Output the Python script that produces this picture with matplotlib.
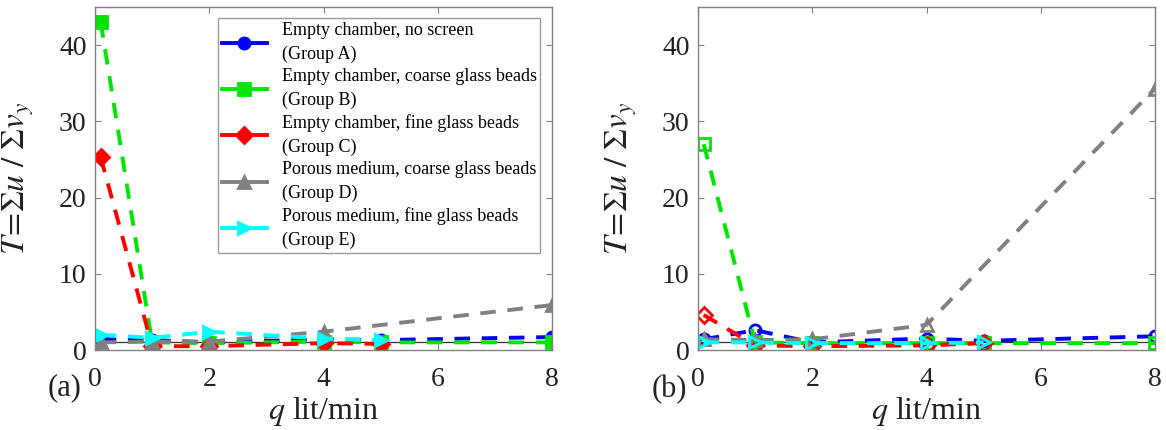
import matplotlib
matplotlib.use('Agg')
import matplotlib.pyplot as plt

plt.rcParams['font.family'] = ['Liberation Serif', 'DejaVu Serif']
plt.rcParams['mathtext.fontset'] = 'stix'

# flow rate q (lit/min) per group
q_a = [0.1, 1, 2, 4, 5, 8]
q_b = [0.1, 1, 2, 4, 5, 8]
q_c = [0.1, 1, 2, 4, 5]
q_d = [0.1, 1, 2, 4, 8]
q_e = [0.1, 1, 2, 4, 5]

# panel (a)
ta_A = [1.4, 1.3, 1.0, 1.4, 1.3, 1.7]
ta_B = [43.0, 1.0, 0.9, 1.1, 1.0, 1.0]
ta_C = [25.3, 0.5, 0.5, 0.9, 0.8]
ta_D = [1.0, 1.1, 1.1, 2.4, 5.9]
ta_E = [2.0, 1.6, 2.4, 1.5, 1.3]

# panel (b)
tb_A = [1.4, 2.6, 1.0, 1.5, 1.2, 1.8]
tb_B = [27.0, 1.0, 0.9, 0.9, 0.9, 0.9]
tb_C = [4.6, 0.6, 0.5, 0.6, 0.9]
tb_D = [1.4, 1.3, 1.4, 3.3, 34.3]
tb_E = [1.0, 1.0, 0.9, 0.9, 1.0]

labels = ['Empty chamber, no screen\n(Group A)',
          'Empty chamber, coarse glass beads\n(Group B)',
          'Empty chamber, fine glass beads\n(Group C)',
          'Porous medium, coarse glass beads\n(Group D)',
          'Porous medium, fine glass beads\n(Group E)']
colors = ['#0000ff', '#00e600', '#ff0000', '#808080', '#00ffff']
markers = ['o', 's', 'D', '^', '>']

fig = plt.figure(figsize=(11.66, 4.3), dpi=100)
W, H = 1166, 430
ax_a = fig.add_axes([95 / W, 80 / H, 457 / W, 343 / H])
ax_b = fig.add_axes([698 / W, 80 / H, 457 / W, 343 / H])


def draw(ax, series, filled):
    qs = [q_a, q_b, q_c, q_d, q_e]
    for q, t, c, m, lab in zip(qs, series, colors, markers, labels):
        ax.plot(q, t, color=c, marker=m, markersize=8, lw=2.8,
                linestyle=(0, (4, 3)), label=lab,
                markerfacecolor=c if filled else 'none',
                markeredgewidth=2)
    ax.axhline(1, color='#333333', lw=0.9, zorder=1)
    ax.set_xlim(0, 8)
    ax.set_ylim(0, 45)
    ax.set_xticks([0, 2, 4, 6, 8])
    ax.set_yticks([0, 10, 20, 30, 40])
    ax.tick_params(direction='in', top=True, right=True, labelsize=20,
                   colors='#808080', labelcolor='#222222', length=4)
    ax.tick_params(axis='x', pad=12)
    ax.tick_params(axis='y', pad=6)
    for s in ax.spines.values():
        s.set_color('#808080')
        s.set_linewidth(1)
    ax.set_xlabel('$q$ lit/min', fontsize=23, color='#222222')
    ax.xaxis.set_label_coords(0.5, -0.13)
    ax.set_ylabel(r'$T\!=\!\Sigma u\ /\ \Sigma v_y$', fontsize=24, color='#222222')
    ax.yaxis.set_label_coords(-0.13, 0.5)


draw(ax_a, [ta_A, ta_B, ta_C, ta_D, ta_E], True)
draw(ax_b, [tb_A, tb_B, tb_C, tb_D, tb_E], False)

leg = ax_a.legend(loc='upper right', bbox_to_anchor=(0.974, 0.968),
                  fontsize=13, frameon=True, fancybox=False,
                  handlelength=2.5, handletextpad=0.8, labelspacing=0.25,
                  borderpad=0.2, borderaxespad=0)
leg.get_frame().set_edgecolor('#808080')
leg.get_frame().set_linewidth(1)
for h in leg.get_lines():
    h.set_linestyle('-')
for t in leg.get_texts():
    t.set_linespacing(1.55)

fig.text(65 / W, 1 - 388 / H, '(a)', fontsize=22, ha='center', va='center', color='#222222')
fig.text(669 / W, 1 - 390 / H, '(b)', fontsize=22, ha='center', va='center', color='#222222')

fig.savefig('out.png', dpi=100)
